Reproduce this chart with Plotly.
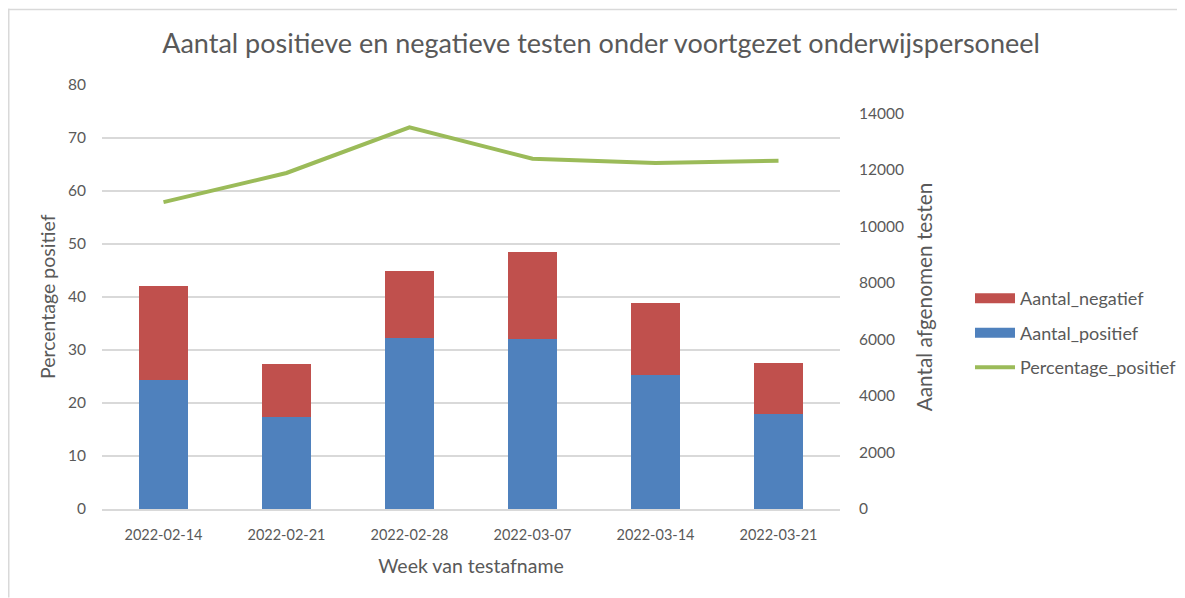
import plotly.graph_objects as go

weeks = ["2022-02-14", "2022-02-21", "2022-02-28", "2022-03-07", "2022-03-14", "2022-03-21"]
aantal_positief = [4566, 3270, 6060, 6013, 4732, 3376]
aantal_negatief = [3319, 1850, 2344, 3083, 2542, 1779]
percentage_positief = [57.9, 63.4, 72.0, 66.1, 65.3, 65.7]
right_ticks = [0, 2000, 4000, 6000, 8000, 10000, 12000, 14000]

FONT = "Lato"
GREY = "#595959"
BLUE, RED, GREEN = "#4F81BD", "#C0504D", "#9BBB59"

fig = go.Figure()
fig.add_trace(go.Bar(x=weeks, y=aantal_positief, name="Aantal_positief", yaxis="y2",
                     marker=dict(color=BLUE, line=dict(width=0)), showlegend=False))
fig.add_trace(go.Bar(x=weeks, y=aantal_negatief, name="Aantal_negatief", yaxis="y2",
                     marker=dict(color=RED, line=dict(width=0)), showlegend=False))
fig.add_trace(go.Scatter(x=weeks, y=percentage_positief, name="Percentage_positief", mode="lines",
                         line=dict(color=GREEN, width=4), showlegend=False))
# legend entries (Excel-style wide swatches)
for nm, col, w, g in [("Aantal_negatief", RED, 10, "a"), ("Aantal_positief", BLUE, 10, "b"),
                      ("Percentage_positief", GREEN, 4, "c")]:
    fig.add_trace(go.Scatter(x=[None], y=[None], mode="lines", name=nm, legendgroup=g,
                             line=dict(color=col, width=w), showlegend=True, hoverinfo="skip"))

# page offset (body margin) is 8px; figure spans page 8..1185, 8..598
OFF = 8
W, H = 1185 - OFF, 598 - OFF
L, R, T, B = 102, 840, 84.5, 509.3  # plot area in page coords
def px(x):
    return (x - L) / (R - L)
def py(y):
    return (B - y) / (B - T)

fig.update_layout(
    width=W, height=H,
    margin=dict(l=L - OFF, r=W - (R - OFF), t=T - OFF, b=H - (B - OFF), pad=0, autoexpand=False),
    paper_bgcolor="white", plot_bgcolor="white",
    barmode="stack", bargap=0.6,
    font=dict(family=FONT, color=GREY, size=15.5),
    title=dict(text="Aantal positieve en negatieve testen onder voortgezet onderwijspersoneel",
               x=(601 - OFF) / W, xanchor="center", y=1 - (44 - OFF) / H, yanchor="middle",
               font=dict(size=27, color=GREY, family=FONT)),
    xaxis=dict(type="category", showgrid=False, showline=True, linecolor="#D9D9D9", linewidth=1.5,
               ticks="", tickfont=dict(size=14.5, color=GREY), ticklabelstandoff=12, automargin=False,
               title=dict(text="Week van testafname", font=dict(size=19.5, color=GREY), standoff=17)),
    yaxis=dict(range=[0, 80], dtick=10, showgrid=True, gridcolor="#D9D9D9", gridwidth=1.5,
               zeroline=False, ticks="", tickfont=dict(size=15.5, color=GREY), ticklabelstandoff=15,
               automargin=False),
    yaxis2=dict(range=[0, 15000], tickvals=right_ticks, ticktext=[str(v) for v in right_ticks],
                overlaying="y", side="right", showgrid=False, zeroline=False, ticks="",
                tickfont=dict(size=15.5, color=GREY), ticklabelstandoff=18, automargin=False,
                title=dict(text="Aantal afgenomen testen", font=dict(size=20.8, color=GREY), standoff=14)),
    legend=dict(x=px(970), y=py(280), xanchor="left", yanchor="top", traceorder="grouped",
                font=dict(size=18, color=GREY), tracegroupgap=8, itemwidth=40,
                bgcolor="rgba(0,0,0,0)"),
    showlegend=True,
)

fig.add_annotation(text="Percentage positief", xref="paper", yref="paper", x=px(47), y=0.5,
                   xanchor="center", yanchor="middle", textangle=-90, showarrow=False,
                   font=dict(size=19.5, color=GREY, family=FONT))

fig.add_shape(type="line", xref="paper", yref="paper", x0=px(8), x1=px(1185), y0=py(8.75), y1=py(8.75),
              line=dict(color="#D9D9D9", width=1.5))
fig.add_shape(type="line", xref="paper", yref="paper", x0=px(8.75), x1=px(8.75), y0=py(8), y1=py(598),
              line=dict(color="#D9D9D9", width=1.5))

fig.write_html("out.html")
